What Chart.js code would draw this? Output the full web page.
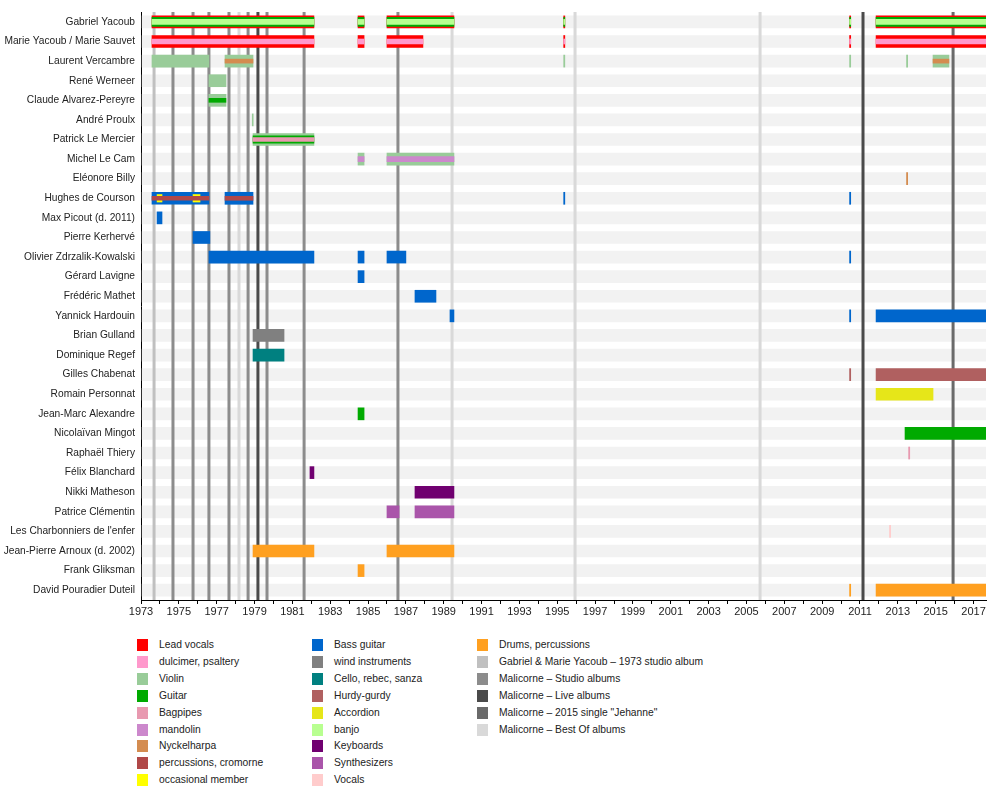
<!DOCTYPE html>
<html>
<head>
<meta charset="utf-8">
<script src="https://cdn.jsdelivr.net/npm/chart.js@4.4.1/dist/chart.umd.min.js"></script>
<style>
    body { margin: 0; background: #fff; font-family: "Liberation Sans", Arial, sans-serif; }
    #wrap { position: relative; width: 1000px; height: 795px; }
    #chart { position: absolute; left: 0; top: 0; }
    .lg-sw { position: absolute; width: 11px; height: 12px; }
    .lg-tx { position: absolute; font-size: 10.3px; line-height: 13px; color: #222; white-space: nowrap; }
</style>
</head>
<body>
<div id="wrap">
    <canvas id="chart" width="1000" height="625"></canvas>
    <div id="legend"></div>
</div>
<script>
// ============================================================
//  DATA
// ============================================================
const members = [
    'Gabriel Yacoub', 'Marie Yacoub / Marie Sauvet', 'Laurent Vercambre', 'René Werneer',
    'Claude Alvarez-Pereyre', 'André Proulx', 'Patrick Le Mercier', 'Michel Le Cam',
    'Eléonore Billy', 'Hughes de Courson', 'Max Picout (d. 2011)', 'Pierre Kerhervé',
    'Olivier Zdrzalik-Kowalski', 'Gérard Lavigne', 'Frédéric Mathet', 'Yannick Hardouin',
    'Brian Gulland', 'Dominique Regef', 'Gilles Chabenat', 'Romain Personnat',
    'Jean-Marc Alexandre', 'Nicolaïvan Mingot', 'Raphaël Thiery', 'Félix Blanchard',
    'Nikki Matheson', 'Patrice Clémentin', "Les Charbonniers de l'enfer",
    'Jean-Pierre Arnoux (d. 2002)', 'Frank Gliksman', 'David Pouradier Duteil'
];

const xMin = 1973, xMax = 2017.66;
const tickYears = [1973, 1974, 1975, 1976, 1977, 1978, 1979, 1980, 1981, 1982, 1983, 1984,
    1985, 1986, 1987, 1988, 1989, 1990, 1991, 1992, 1993, 1994, 1995, 1996, 1997, 1998,
    1999, 2000, 2001, 2002, 2003, 2004, 2005, 2006, 2007, 2008, 2009, 2010, 2011, 2012,
    2013, 2014, 2015, 2016, 2017];

const gabrielYears = [[1973.58, 1982.14], [1984.47, 1984.79], [1986.00, 1989.54], [1995.34, 1995.40], [2010.45, 2010.51], [2011.85, 2017.66]];
const marieYears   = [[1973.58, 1982.14], [1984.47, 1984.79], [1986.00, 1987.90], [1995.34, 1995.40], [2010.45, 2010.51], [2011.85, 2017.66]];
const hughesYears  = [[1973.58, 1976.59], [1977.44, 1978.92], [1995.34, 1995.40], [2010.45, 2010.51]];

// [member, spans, instrument, layer]
const layers = [
    ['Gabriel Yacoub', gabrielYears, 'Lead vocals', 'main'],
    ['Gabriel Yacoub', gabrielYears, 'Guitar', 'band'],
    ['Gabriel Yacoub', gabrielYears, 'banjo', 'core'],
    ['Marie Yacoub / Marie Sauvet', marieYears, 'Lead vocals', 'main'],
    ['Marie Yacoub / Marie Sauvet', marieYears, 'dulcimer, psaltery', 'core'],
    ['Laurent Vercambre', [[1973.58, 1976.59], [1977.44, 1978.92], [1995.34, 1995.40], [2010.45, 2010.51], [2013.46, 2013.52], [2014.86, 2015.70]], 'Violin', 'main'],
    ['Laurent Vercambre', [[1977.44, 1978.92], [2014.86, 2015.70]], 'Nyckelharpa', 'inner'],
    ['René Werneer', [[1976.59, 1977.49]], 'Violin', 'main'],
    ['Claude Alvarez-Pereyre', [[1976.59, 1977.49]], 'Violin', 'main'],
    ['Claude Alvarez-Pereyre', [[1976.59, 1977.49]], 'Guitar', 'inner'],
    ['André Proulx', [[1978.88, 1978.93]], 'Violin', 'main'],
    ['Patrick Le Mercier', [[1978.92, 1982.14]], 'Violin', 'main'],
    ['Patrick Le Mercier', [[1978.92, 1982.14]], 'Guitar', 'mid'],
    ['Patrick Le Mercier', [[1978.92, 1982.14]], 'Bagpipes', 'inner'],
    ['Michel Le Cam', [[1984.47, 1984.79], [1986.00, 1989.54]], 'Violin', 'main'],
    ['Michel Le Cam', [[1984.47, 1984.79], [1986.00, 1989.54]], 'mandolin', 'core'],
    ['Eléonore Billy', [[2013.46, 2013.52]], 'Nyckelharpa', 'main'],
    ['Hughes de Courson', hughesYears, 'Bass guitar', 'main'],
    ['Hughes de Courson', [[1973.85, 1974.11], [1975.75, 1976.12]], 'occasional member', 'mid'],
    ['Hughes de Courson', [[1973.58, 1976.59], [1977.44, 1978.92]], 'percussions, cromorne', 'inner'],
    ['Max Picout (d. 2011)', [[1973.85, 1974.11]], 'Bass guitar', 'main'],
    ['Pierre Kerhervé', [[1975.75, 1976.64]], 'Bass guitar', 'main'],
    ['Olivier Zdrzalik-Kowalski', [[1976.59, 1982.14], [1984.47, 1984.79], [1986.00, 1987.00], [2010.45, 2010.51]], 'Bass guitar', 'main'],
    ['Gérard Lavigne', [[1984.47, 1984.79]], 'Bass guitar', 'main'],
    ['Frédéric Mathet', [[1987.48, 1988.59]], 'Bass guitar', 'main'],
    ['Yannick Hardouin', [[1989.33, 1989.54], [2010.45, 2010.51], [2011.85, 2017.66]], 'Bass guitar', 'main'],
    ['Brian Gulland', [[1978.92, 1980.56]], 'wind instruments', 'main'],
    ['Dominique Regef', [[1978.92, 1980.56]], 'Cello, rebec, sanza', 'main'],
    ['Gilles Chabenat', [[2010.45, 2010.51], [2011.85, 2017.66]], 'Hurdy-gurdy', 'main'],
    ['Romain Personnat', [[2011.85, 2014.86]], 'Accordion', 'main'],
    ['Jean-Marc Alexandre', [[1984.47, 1984.79]], 'Guitar', 'main'],
    ['Nicolaïvan Mingot', [[2013.38, 2017.66]], 'Guitar', 'main'],
    ['Raphaël Thiery', [[2013.57, 2013.63]], 'Bagpipes', 'main'],
    ['Félix Blanchard', [[1981.93, 1982.14]], 'Keyboards', 'main'],
    ['Nikki Matheson', [[1987.48, 1989.54]], 'Keyboards', 'main'],
    ['Patrice Clémentin', [[1986.00, 1986.64], [1987.48, 1989.54]], 'Synthesizers', 'main'],
    ["Les Charbonniers de l'enfer", [[2012.56, 2012.62]], 'Vocals', 'main'],
    ['Jean-Pierre Arnoux (d. 2002)', [[1978.92, 1982.14], [1986.00, 1989.54]], 'Drums, percussions', 'main'],
    ['Frank Gliksman', [[1984.47, 1984.79]], 'Drums, percussions', 'main'],
    ['David Pouradier Duteil', [[2010.45, 2010.51], [2011.85, 2017.66]], 'Drums, percussions', 'main']
];

const album1973    = [1973.69];
const studioAlbums = [1974.69, 1975.75, 1976.59, 1977.65, 1978.66, 1979.66, 1981.62, 1986.58];
const liveAlbums   = [1979.18, 2011.16];
const singleAlbums = [2015.92];
const bestOfAlbums = [1978.18, 1989.44, 1995.94, 2005.72];

const legendInstruments = [
    'Lead vocals', 'dulcimer, psaltery', 'Violin', 'Guitar', 'Bagpipes', 'mandolin',
    'Nyckelharpa', 'percussions, cromorne', 'occasional member',
    'Bass guitar', 'wind instruments', 'Cello, rebec, sanza', 'Hurdy-gurdy', 'Accordion',
    'banjo', 'Keyboards', 'Synthesizers', 'Vocals', 'Drums, percussions'
];
const legendAlbums = [
    'Gabriel & Marie Yacoub – 1973 studio album', 'Malicorne – Studio albums',
    'Malicorne – Live albums', 'Malicorne – 2015 single "Jehanne"', 'Malicorne – Best Of albums'
];

// ============================================================
//  STYLE
// ============================================================
const COLORS = {
    'Lead vocals'          : '#ff0000',
    'dulcimer, psaltery'   : '#ff99cc',
    'Violin'               : '#99cc99',
    'Guitar'               : '#00aa00',
    'Bagpipes'             : '#e899b0',
    'mandolin'             : '#cc88cc',
    'Nyckelharpa'          : '#d48c50',
    'percussions, cromorne': '#b04848',
    'occasional member'    : '#ffff00',
    'Bass guitar'          : '#0066cc',
    'wind instruments'     : '#808080',
    'Cello, rebec, sanza'  : '#008080',
    'Hurdy-gurdy'          : '#b06060',
    'Accordion'            : '#e6e619',
    'banjo'                : '#b8ff90',
    'Keyboards'            : '#700070',
    'Synthesizers'         : '#aa55aa',
    'Vocals'               : '#ffcccc',
    'Drums, percussions'   : '#ffa020'
};
const ALBUM_COLORS = ['#c0c0c0', '#8c8c8c', '#4a4a4a', '#6a6a6a', '#d9d9d9'];
const THICK = { main: 12, band: 9, mid: 7.5, core: 5, inner: 4 };
const ORDER = { main: 4, band: 3, mid: 3, core: 2, inner: 1 };
const FONT  = '"Liberation Sans", Arial, sans-serif';

// ============================================================
//  BUILD DATASETS
// ============================================================
function buildDatasets() {
    const sets = [];

    // row background stripes
    sets.push({
        type: 'bar', indexAxis: 'y', grouped: false, order: 10,
        data: members.map(m => ({ x: [xMin + 0.06, xMax], y: m })),
        backgroundColor: '#f2f2f2', barThickness: 12, borderWidth: 0
    });

    // album lines
    const lineGroups = [album1973, studioAlbums, liveAlbums, singleAlbums, bestOfAlbums];
    lineGroups.forEach(function (years, gi) {
        years.forEach(function (yr) {
            sets.push({
                type: 'line', order: 6, xAxisID: 'x', yAxisID: 'yl',
                data: [{ x: yr, y: 0 }, { x: yr, y: 1 }],
                borderColor: ALBUM_COLORS[gi], borderWidth: 3,
                pointRadius: 0, fill: false, tension: 0
            });
        });
    });

    // member bars grouped by instrument + layer
    const groups = {};
    layers.forEach(function (l) {
        const key = l[2] + '|' + l[3];
        if (!groups[key]) groups[key] = { inst: l[2], layer: l[3], data: [] };
        l[1].forEach(s => groups[key].data.push({ x: [s[0], s[1]], y: l[0] }));
    });
    Object.values(groups).forEach(function (g) {
        sets.push({
            type: 'bar', indexAxis: 'y', grouped: false, order: ORDER[g.layer],
            xAxisID: 'x', yAxisID: 'y',
            data: g.data, backgroundColor: COLORS[g.inst],
            barThickness: THICK[g.layer], borderWidth: 0
        });
    });
    return sets;
}

new Chart(document.getElementById('chart'), {
    type: 'bar',
    data: { labels: members, datasets: buildDatasets() },
    options: {
        indexAxis: 'y',
        responsive: false, animation: false,
        layout: { padding: { top: 11, right: 14, left: 0, bottom: 0 } },
        plugins: { legend: { display: false }, tooltip: { enabled: false } },
        events: [],
        scales: {
            x: {
                type: 'linear', min: xMin, max: xMax,
                afterBuildTicks: s => { s.ticks = tickYears.map(v => ({ value: v })); },
                afterFit: s => { s.height = 25; },
                grid: { display: true, drawOnChartArea: false, drawTicks: true, tickLength: 4, color: '#000' },
                border: { display: true, color: '#000', width: 1 },
                ticks: {
                    autoSkip: false, maxRotation: 0, padding: 1, color: '#222',
                    font: { family: FONT, size: 11 },
                    callback: v => (v % 2 === 1 ? String(v) : '')
                }
            },
            y: {
                type: 'category', labels: members, offset: true,
                afterFit: s => { s.width = 141; },
                grid: { display: false, drawTicks: false, tickLength: 0 },
                border: { display: true, color: '#000', width: 1 },
                ticks: { autoSkip: false, padding: 6, color: '#222', font: { family: FONT, size: 10.2 } }
            },
            yl: {
                type: 'linear', axis: 'y', display: false, min: 0, max: 1,
                offset: false, grid: { offset: false }
            }
        }
    }
});

// ============================================================
//  LEGEND
// ============================================================
function renderLegend() {
    const cols = [137, 312, 477];
    const items = legendInstruments.map(n => [n, COLORS[n]])
        .concat(legendAlbums.map((n, i) => [n, ALBUM_COLORS[i]]));
    const html = items.map(function (it, i) {
        const cx = cols[Math.floor(i / 9)];
        const cy = 645 + (i % 9) * 16.9;
        return '<div class="lg-sw" style="left:' + cx + 'px;top:' + (cy - 6) + 'px;background:' + it[1] + '"></div>' +
            '<div class="lg-tx" style="left:' + (cx + 22) + 'px;top:' + (cy - 7) + 'px">' + it[0].replace(/&/g, '&amp;') + '</div>';
    }).join('');
    document.getElementById('legend').innerHTML = html;
}
renderLegend();
</script>
</body>
</html>
